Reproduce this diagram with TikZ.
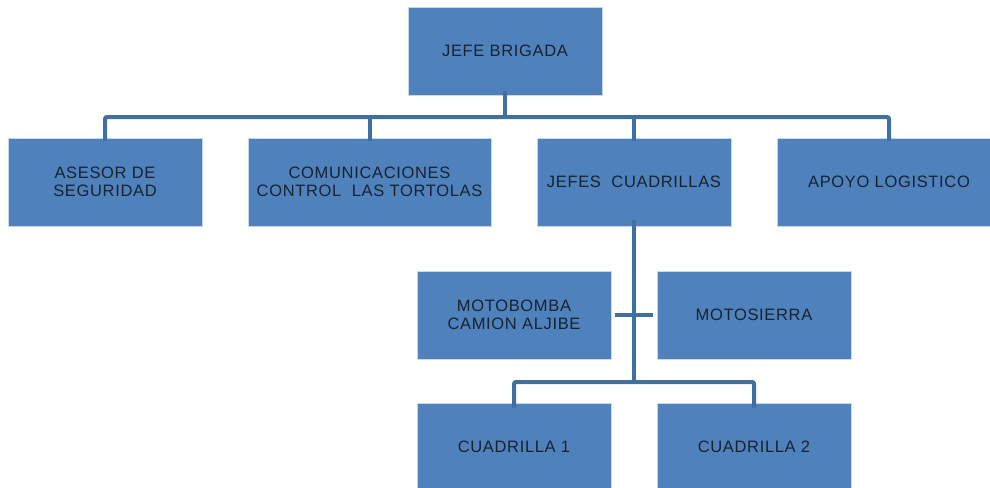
\documentclass[tikz,border=0pt]{standalone}
\usepackage{fontspec}
\setmainfont{Liberation Sans}[LetterSpace=4]
\definecolor{boxfill}{HTML}{4F81BD}
\definecolor{boxedge}{HTML}{C9D7EA}
\definecolor{linec}{HTML}{41709F}
\definecolor{txt}{HTML}{17232F}
\begin{document}
\begin{tikzpicture}[x=1pt,y=-1pt,
  orgbox/.style={rectangle, fill=boxfill, draw=boxedge, line width=0.8pt, align=center,
    text=txt, font=\fontsize{16.5}{18.5}\selectfont, inner sep=0pt},
  conn/.style={draw=linec, line width=4pt, rounded corners=2pt}]
\useasboundingbox (0,0) rectangle (990,487);
\clip (0,0) rectangle (990,487);
\node[orgbox, minimum width=194, minimum height=88] (jefe) at (505,51) {JEFE BRIGADA};
\node[orgbox, minimum width=194, minimum height=88] (asesor) at (105,182) {ASESOR DE\\SEGURIDAD};
\node[orgbox, minimum width=243, minimum height=88] (com) at (369.5,182) {COMUNICACIONES\\CONTROL\ \ LAS TORTOLAS};
\node[orgbox, minimum width=194, minimum height=88] (jc) at (634,182) {JEFES\ \ CUADRILLAS};
\node[orgbox, minimum width=224, minimum height=88] (apoyo) at (889,182) {APOYO LOGISTICO};
\node[orgbox, minimum width=194, minimum height=88] (moto) at (514,315) {MOTOBOMBA\\CAMION ALJIBE};
\node[orgbox, minimum width=194, minimum height=88] (sierra) at (754,315) {MOTOSIERRA};
\node[orgbox, minimum width=194, minimum height=88] (c1) at (514,447) {CUADRILLA 1};
\node[orgbox, minimum width=194, minimum height=88] (c2) at (754,447) {CUADRILLA 2};
\coordinate (hub) at (505,117);
\coordinate (hub2) at (634,382);
\draw[conn] ([yshift=4pt]jefe.south) -- (hub);
\draw[conn] ([yshift=-3pt]asesor.north) |- (hub) -| ([yshift=-3pt]apoyo.north);
\draw[conn] ([yshift=-3pt]com.north) -- (com.north |- hub);
\draw[conn] ([yshift=-3pt]jc.north) -- (jc.north |- hub);
\draw[conn] ([yshift=6pt]jc.south) -- (hub2);
\draw[conn] ([xshift=4pt]moto.east) -- ([xshift=-4pt]sierra.west);
\draw[conn] ([yshift=-5pt]c1.north) |- (hub2) -| ([yshift=-5pt]c2.north);
\end{tikzpicture}
\end{document}
